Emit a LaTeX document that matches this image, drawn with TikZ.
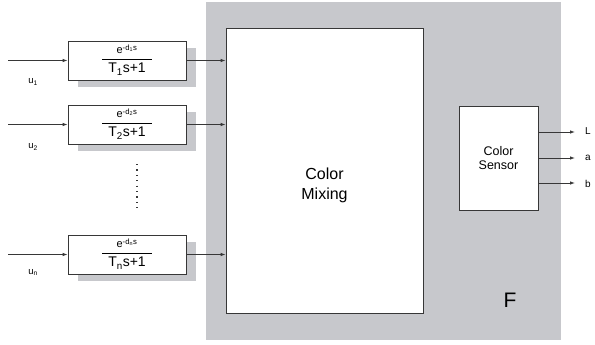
\documentclass[tikz,border=0pt]{standalone}
\usepackage{fontspec}
\setmainfont{Liberation Sans}
\usetikzlibrary{arrows.meta,positioning,shadows}

\definecolor{panelgray}{RGB}{199,200,204}
\definecolor{linegray}{RGB}{55,55,55}

% transfer function of one channel
\newcommand{\delayfrac}[1]{%
  \begin{tabular}{@{\hspace{6pt}}c@{\hspace{6pt}}}
    {\fontsize{11}{12}\selectfont e\textsuperscript{-d\textsubscript{#1}s}}\\[1pt]
    \hline
    \rule{0pt}{14pt}{\fontsize{14}{15}\selectfont T\textsubscript{#1}s+1}
  \end{tabular}}

\begin{document}
\begin{tikzpicture}[
        x=1pt, y=-1pt,
        delay/.style={draw=linegray, fill=white, line width=0.8pt,
          minimum width=118pt, minimum height=39pt, inner sep=0pt,
          drop shadow={shadow xshift=10pt, shadow yshift=-7pt,
            fill=panelgray, opacity=1}},
        bigbox/.style={draw=linegray, fill=white, line width=0.8pt,
          align=center, inner sep=0pt},
        arr/.style={-{Latex[length=5pt,width=3.5pt]}, draw=linegray,
          line width=0.8pt},
        lbl/.style={font=\fontsize{9.5}{10}\selectfont, inner sep=0pt}
      ]
        \useasboundingbox (0,0) rectangle (595,345);
        % grey plant area
        \fill[panelgray] (206,2) rectangle (561,340);
        \node[font=\fontsize{21}{24}\selectfont] (plant) at (510,300) {F};

        % delay blocks
        \node[delay] (g1) at (127,60.5) {\delayfrac{1}};
        \node[delay] (g2) at (127,124.5) {\delayfrac{2}};
        \node[delay] (gn) at (127,254.5) {\delayfrac{n}};
        \draw[linegray, line width=1.2pt, dash pattern=on 1.2pt off 4.2pt]
          (137,164) -- (137,208);

        % mixing and sensor
        \node[bigbox, minimum width=197pt, minimum height=285pt,
          label={[font=\fontsize{16}{20}\selectfont, align=center,
            yshift=-15pt]center:Color\\Mixing}] (mix) at (324.5,170.5) {};
        \node[bigbox, minimum width=79pt, minimum height=104pt,
          font=\fontsize{12.5}{14}\selectfont] (sensor) at (498.5,158) {Color\\Sensor};

        % inputs
        \coordinate (in1) at (8,60.5);
        \coordinate (in2) at (8,124.5);
        \coordinate (inn) at (8,254.5);
        \draw[arr] (in1) -- (g1);
        \draw[arr] (in2) -- (g2);
        \draw[arr] (inn) -- (gn);
        \node[lbl] (u1) at (33,82) {u\textsubscript{1}};
        \node[lbl] (u2) at (33,147) {u\textsubscript{2}};
        \node[lbl] (un) at (33,272) {u\textsubscript{n}};

        \draw[arr] (g1.east) -- (g1.east -| mix.west);
        \draw[arr] (g2.east) -- (g2.east -| mix.west);
        \draw[arr] (gn.east) -- (gn.east -| mix.west);

        % outputs
        \node[lbl, anchor=west, font=\fontsize{10}{12}\selectfont] (outL) at (585,131) {L};
        \node[lbl, anchor=west, font=\fontsize{10}{12}\selectfont] (outa) at (585,158) {a};
        \node[lbl, anchor=west, font=\fontsize{10}{12}\selectfont] (outb) at (585,184) {b};
        \draw[arr] (sensor.east |- 0,132) -- (575,132);
        \draw[arr] (sensor.east |- 0,158) -- (575,158);
        \draw[arr] (sensor.east |- 0,183) -- (575,183);
      \end{tikzpicture}
\end{document}
